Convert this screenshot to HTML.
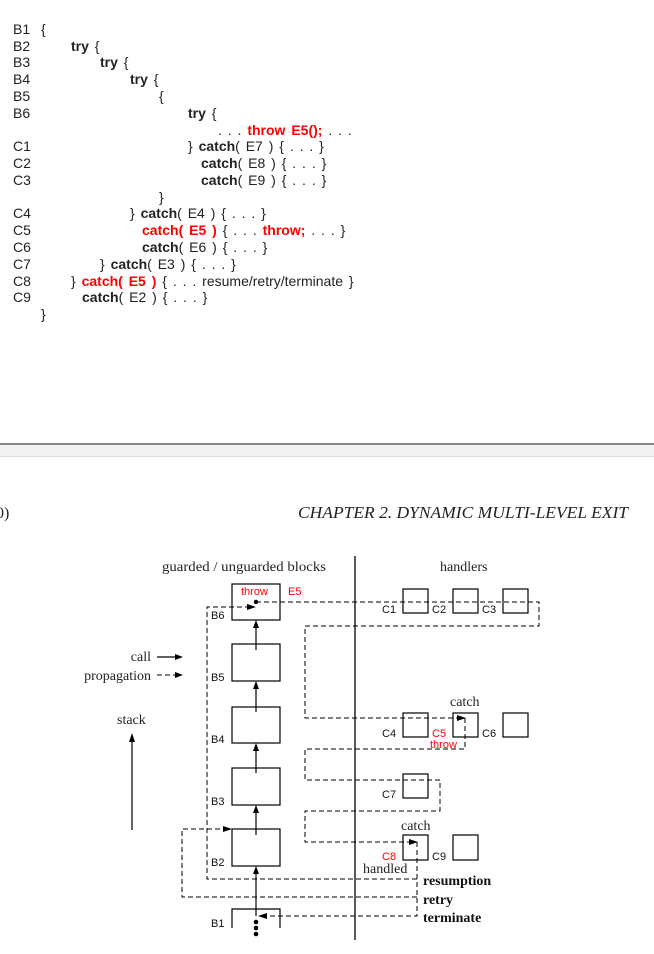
<!DOCTYPE html>
<html><head><meta charset="utf-8"><style>
html,body{margin:0;padding:0;background:#fff;}
svg{display:block;}
.c{font-family:"Liberation Sans",sans-serif;font-size:14px;fill:#222;word-spacing:2px;}
.b{font-weight:bold;}
.r{fill:#f00;font-weight:bold;}
.s{font-family:"Liberation Serif",serif;font-size:14px;fill:#222;}
.sb{font-family:"Liberation Serif",serif;font-size:14px;font-weight:bold;fill:#111;}
.l{font-family:"Liberation Sans",sans-serif;font-size:11px;fill:#111;}
.lr{font-family:"Liberation Sans",sans-serif;font-size:11px;fill:#f00;}
</style></head><body>
<svg width="654" height="954" viewBox="0 0 654 954" xmlns="http://www.w3.org/2000/svg">
<rect width="654" height="954" fill="#fff"/>
<g class="c">
<text x="13" y="34">B1</text><text x="41" y="34">{</text>
<text x="13" y="51">B2</text><text x="71" y="51"><tspan class="b">try</tspan> {</text>
<text x="13" y="67">B3</text><text x="100" y="67"><tspan class="b">try</tspan> {</text>
<text x="13" y="84">B4</text><text x="130" y="84"><tspan class="b">try</tspan> {</text>
<text x="13" y="101">B5</text><text x="159" y="101">{</text>
<text x="13" y="118">B6</text><text x="188" y="118"><tspan class="b">try</tspan> {</text>
<text x="218" y="135">. . . <tspan class="r">throw E5();</tspan> . . .</text>
<text x="13" y="151">C1</text><text x="188" y="151">} <tspan class="b">catch</tspan>( E7 ) { . . . }</text>
<text x="13" y="168">C2</text><text x="201" y="168"><tspan class="b">catch</tspan>( E8 ) { . . . }</text>
<text x="13" y="185">C3</text><text x="201" y="185"><tspan class="b">catch</tspan>( E9 ) { . . . }</text>
<text x="159" y="202">}</text>
<text x="13" y="218">C4</text><text x="130" y="218">} <tspan class="b">catch</tspan>( E4 ) { . . . }</text>
<text x="13" y="235">C5</text><text x="142" y="235"><tspan class="r">catch( E5 )</tspan> { . . . <tspan class="r">throw;</tspan> . . . }</text>
<text x="13" y="252">C6</text><text x="142" y="252"><tspan class="b">catch</tspan>( E6 ) { . . . }</text>
<text x="13" y="269">C7</text><text x="100" y="269">} <tspan class="b">catch</tspan>( E3 ) { . . . }</text>
<text x="13" y="286">C8</text><text x="71" y="286">} <tspan class="r">catch( E5 )</tspan> { . . . resume/retry/terminate }</text>
<text x="13" y="302">C9</text><text x="82" y="302"><tspan class="b">catch</tspan>( E2 ) { . . . }</text>
<text x="41" y="319">}</text>
</g>
<rect x="0" y="444" width="654" height="13" fill="#f2f2f2"/>
<rect x="0" y="443" width="654" height="2" fill="#888"/>
<rect x="0" y="456" width="654" height="1" fill="#ddd"/>
<text x="-4" y="518" font-family="Liberation Serif,serif" font-size="16" fill="#222">0)</text>
<text x="298" y="518" font-family="Liberation Serif,serif" font-size="17" font-style="italic" fill="#222" textLength="330" lengthAdjust="spacingAndGlyphs">CHAPTER 2.  DYNAMIC MULTI-LEVEL EXIT</text>
<text class="s" x="162" y="571" textLength="164" lengthAdjust="spacingAndGlyphs">guarded / unguarded blocks</text>
<text class="s" x="440" y="571">handlers</text>
<line x1="355" y1="556" x2="355" y2="940" stroke="#222" stroke-width="1.5"/>
<g fill="none" stroke="#000" stroke-width="1.2">
<rect x="232" y="584" width="48" height="36"/>
<rect x="232" y="644" width="48" height="37"/>
<rect x="232" y="707" width="48" height="36"/>
<rect x="232" y="768" width="48" height="37"/>
<rect x="232" y="829" width="48" height="37"/>
<path d="M232 928V909H280V928"/>
<rect x="403" y="589" width="25" height="24"/><rect x="453" y="589" width="25" height="24"/><rect x="503" y="589" width="25" height="24"/>
<rect x="403" y="713" width="25" height="24"/><rect x="453" y="713" width="25" height="24"/><rect x="503" y="713" width="25" height="24"/>
<rect x="403" y="774" width="25" height="24"/>
<rect x="403" y="835" width="25" height="25"/><rect x="453" y="835" width="25" height="25"/>
<line x1="256" y1="650" x2="256" y2="624"/>
<line x1="256" y1="712" x2="256" y2="685"/>
<line x1="256" y1="773" x2="256" y2="747"/>
<line x1="256" y1="835" x2="256" y2="809"/>
<line x1="256" y1="916" x2="256" y2="870"/>
<line x1="132" y1="830" x2="132" y2="738"/>
<line x1="157" y1="657" x2="178" y2="657"/>
</g>
<g fill="#000">
<path d="M256 620l-3 8h6z"/><path d="M256 681l-3 8h6z"/><path d="M256 743l-3 8h6z"/><path d="M256 805l-3 8h6z"/><path d="M256 866l-3 8h6z"/>
<path d="M132 733l-3 9h6z"/>
<path d="M183 657l-8-3v6z"/><path d="M183 675l-8-3v6z"/>
<circle cx="256" cy="602" r="2.2"/>
<circle cx="256" cy="922" r="2.3"/><circle cx="256" cy="928" r="2.3"/><circle cx="256" cy="934" r="2.3"/>
<path d="M256 607l-9-3v6z"/>
<path d="M466 718l-9-3v6z"/>
<path d="M418 842l-9-3v6z"/>
<path d="M232 829l-9-3v6z"/>
<path d="M258 916l9-3v6z"/>
</g>
<g fill="none" stroke="#000" stroke-width="1" stroke-dasharray="5,3">
<line x1="157" y1="675" x2="176" y2="675"/>
<path d="M256 602H539V626H305V718H460"/>
<path d="M465 718V749H305V780H440V811H305V842H412"/>
<path d="M417 842V916H266"/>
<path d="M417 879H207V607H249"/>
<path d="M417 897H182V829H225"/>
</g>
<text class="lr" x="241" y="595">throw</text><text class="lr" x="288" y="595">E5</text>
<g class="l">
<text x="211" y="619">B6</text><text x="211" y="681">B5</text><text x="211" y="743">B4</text>
<text x="211" y="805">B3</text><text x="211" y="866">B2</text><text x="211" y="927">B1</text>
<text x="382" y="613">C1</text><text x="432" y="613">C2</text><text x="482" y="613">C3</text>
<text x="382" y="737">C4</text><text x="482" y="737">C6</text>
<text x="382" y="798">C7</text><text x="432" y="860">C9</text>
</g>
<text class="lr" x="432" y="737">C5</text>
<text class="lr" x="430" y="748">throw</text>
<text class="lr" x="382" y="860">C8</text>
<text class="s" x="450" y="706">catch</text>
<text class="s" x="401" y="830">catch</text>
<text class="s" x="363" y="873">handled</text>
<text class="sb" x="423" y="885">resumption</text>
<text class="sb" x="423" y="904">retry</text>
<text class="sb" x="423" y="922">terminate</text>
<text class="s" x="151" y="661" text-anchor="end">call</text>
<text class="s" x="151" y="680" text-anchor="end">propagation</text>
<text class="s" x="117" y="724">stack</text>
</svg>
</body></html>
